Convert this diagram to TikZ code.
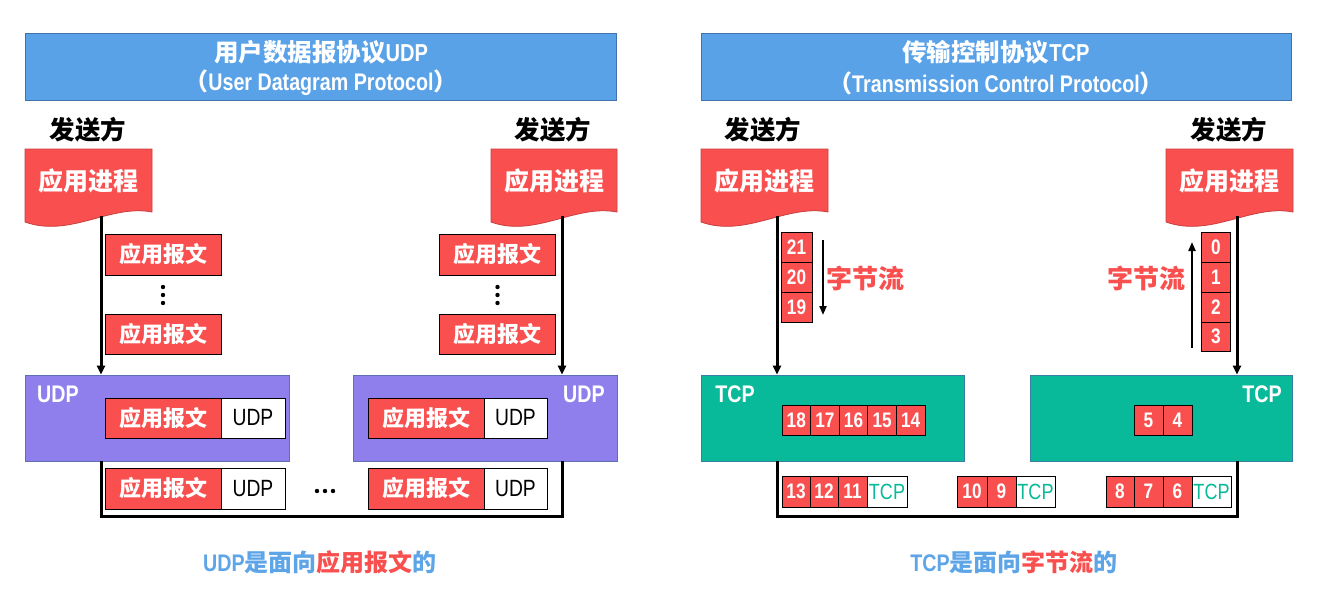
\documentclass[tikz,border=0pt]{standalone}
\usepackage{fontspec}
\usetikzlibrary{arrows.meta}
\setmainfont{Liberation Sans}
\newfontfamily\latf{Liberation Sans}[FakeStretch=0.82]
\newfontfamily\cjkf{Noto Sans CJK SC}
\newcommand\zhb[1]{{\cjkf\bfseries #1}}
\newcommand\enb[1]{{\latf\bfseries #1}}
\newcommand\enr[1]{{\latf #1}}
\definecolor{hblue}{HTML}{5AA2E8}
\definecolor{hborder}{HTML}{3F72AF}
\definecolor{cred}{HTML}{F94F4F}
\definecolor{dred}{HTML}{C9403F}
\definecolor{cpurple}{HTML}{8F7FEC}
\definecolor{pborder}{HTML}{5F6FB0}
\definecolor{cteal}{HTML}{08BA9A}
\definecolor{tborder}{HTML}{3A7FA0}
\definecolor{capblue}{HTML}{5EA5E8}
\tikzset{
  hdr/.style={draw=hborder, line width=1pt, fill=hblue, minimum width=591pt, minimum height=67pt, inner sep=0pt},
  hdrtext/.style={text=white, inner sep=0pt, font=\fontsize{24.5}{27}\selectfont},
  hdrsub/.style={text=white, inner sep=0pt, font=\fontsize{24}{27}\selectfont},
  sender/.style={inner sep=0pt, font=\fontsize{25.5}{28}\selectfont},
  doctext/.style={text=white, inner sep=0pt, font=\fontsize{25}{28}\selectfont},
  docshape/.style={fill=cred, draw=dred, line width=0.8pt},
  msg/.style={draw=black, line width=1pt, fill=cred, text=white, inner sep=0pt, minimum width=116pt, font=\fontsize{22}{25}\selectfont},
  hdrcell/.style={draw=black, line width=1pt, fill=white, text=black, inner sep=0pt, minimum width=64pt, font=\fontsize{23.5}{26}\selectfont},
  udpbox/.style={draw=pborder, line width=0.8pt, fill=cpurple, minimum width=264pt, minimum height=86pt, inner sep=0pt},
  tcpbox/.style={draw=tborder, line width=0.8pt, fill=cteal, minimum width=263pt, minimum height=86pt, inner sep=0pt},
  boxlabel/.style={text=white, inner sep=0pt, font=\fontsize{24}{26}\selectfont},
  byte/.style={draw=black, line width=1pt, fill=cred, text=white, inner sep=0pt, minimum width=29pt, minimum height=30pt, font=\fontsize{21}{23}\selectfont},
  tcpcell/.style={draw=black, line width=1pt, fill=white, text=cteal, inner sep=0pt, minimum width=40pt, minimum height=31pt, font=\fontsize{22}{24}\selectfont},
  flow/.style={line width=3pt, -{Triangle[length=9pt,width=8pt]}},
  thinflow/.style={line width=2pt, -{Triangle[length=9pt,width=7pt]}},
  bar/.style={line width=3pt},
  stream/.style={text=cred, inner sep=0pt, font=\fontsize{26}{28}\selectfont},
  caption/.style={inner sep=0pt, font=\fontsize{24}{27}\selectfont},
}
\begin{document}
\begin{tikzpicture}[x=1pt,y=-1pt]
\useasboundingbox[fill=white] (0,0) rectangle (1319,589);

% ================= UDP side =================
\node[hdr] (hudp) at (321,66.5) {};
\node[hdrtext] (hudp1) at (321,52) {\zhb{用户数据报协议}\enb{UDP}};
\node[hdrsub] (hudp2) at (321,83) {\zhb{（}\enb{User Datagram Protocol}\zhb{）}};

\node[sender] (sL1) at (88,130) {\zhb{发送方}};
\node[sender] (sR1) at (553,130) {\zhb{发送方}};

\path[docshape] (25,149) -- (152,149) -- (152,212) .. controls (110,204) and (70,238) .. (25,222) -- cycle;
\node[doctext] (pL1) at (88,181) {\zhb{应用进程}};
\path[docshape] (491,149) -- (617,149) -- (617,212) .. controls (575,204) and (535,238) .. (491,222) -- cycle;
\node[doctext] (pR1) at (554,181) {\zhb{应用进程}};

\node[msg, minimum height=41pt] (mL1) at (163,254.5) {\zhb{应用报文}};
\node[msg, minimum height=40pt] (mL2) at (163,334) {\zhb{应用报文}};
\node[msg, minimum height=41pt] (mR1) at (497.5,254.5) {\zhb{应用报文}};
\node[msg, minimum height=40pt] (mR2) at (497.5,334) {\zhb{应用报文}};
\foreach \yy in {287,295,303} {
  \fill (163,\yy) circle (2.2pt);
  \fill (497.5,\yy) circle (2.2pt);
}

\node[udpbox] (udpL) at (157,418) {};
\node[udpbox] (udpR) at (485.5,418) {};
\node[boxlabel] (udpLl) at (58,394) {\enb{UDP}};
\node[boxlabel] (udpRl) at (584,394) {\enb{UDP}};

\node[msg, minimum height=40pt] (uL) at (163,418) {\zhb{应用报文}};
\node[hdrcell, minimum height=40pt] (uLh) at (253,418) {\enr{UDP}};
\node[msg, minimum height=40pt] (uR) at (426,418) {\zhb{应用报文}};
\node[hdrcell, minimum width=63pt, minimum height=40pt] (uRh) at (515.5,418) {\enr{UDP}};

\node[msg, minimum height=41pt] (bL) at (163,488.5) {\zhb{应用报文}};
\node[hdrcell, minimum height=41pt] (bLh) at (253,488.5) {\enr{UDP}};
\node[msg, minimum height=41pt] (bR) at (426,488.5) {\zhb{应用报文}};
\node[hdrcell, minimum width=63pt, minimum height=41pt] (bRh) at (515.5,488.5) {\enr{UDP}};
\foreach \xx in {317,325,333} { \fill (\xx,491) circle (2.2pt); }

\coordinate (aL1) at (101,216);
\coordinate (aR1) at (562,216);
\draw[flow] (aL1) -- (aL1 |- udpL.north);
\draw[flow] (aR1) -- (aR1 |- udpR.north);
\draw[bar] (aL1 |- udpL.south) -- ++(0,55) -| (aR1 |- udpR.south);

\node[caption] (capU) at (320,562) {\textcolor{capblue}{\enb{UDP}\zhb{是面向}}\textcolor{cred}{\zhb{应用报文}}\textcolor{capblue}{\zhb{的}}};

% ================= TCP side =================
\node[hdr, minimum width=590pt] (htcp) at (996,66.5) {};
\node[hdrtext] (htcp1) at (996,52) {\zhb{传输控制协议}\enb{TCP}};
\node[hdrsub] (htcp2) at (996,83) {\zhb{（}\enb{Transmission Control Protocol}\zhb{）}};

\node[sender] (sL2) at (763,130) {\zhb{发送方}};
\node[sender] (sR2) at (1229,130) {\zhb{发送方}};

\path[docshape] (701,149) -- (828,149) -- (828,212) .. controls (786,204) and (746,238) .. (701,222) -- cycle;
\node[doctext] (pL2) at (764,181) {\zhb{应用进程}};
\path[docshape] (1166,149) -- (1293,149) -- (1293,212) .. controls (1251,204) and (1211,238) .. (1166,222) -- cycle;
\node[doctext] (pR2) at (1229,181) {\zhb{应用进程}};

% byte stream, left
\node[byte, minimum width=31pt] (b21) at (796.5,247) {\enb{21}};
\node[byte, minimum width=31pt] (b20) at (796.5,277) {\enb{20}};
\node[byte, minimum width=31pt] (b19) at (796.5,307) {\enb{19}};
\coordinate (dsT) at (823,240);
\coordinate (dsB) at (823,315);
\draw[thinflow] (dsT) -- (dsB);
\node[stream] (strL) at (865,278) {\zhb{字节流}};

% byte stream, right
\node[byte] (b0) at (1216,247) {\enb{0}};
\node[byte] (b1) at (1216,277) {\enb{1}};
\node[byte] (b2) at (1216,307) {\enb{2}};
\node[byte, minimum height=29pt] (b3) at (1216,336.5) {\enb{3}};
\coordinate (usB) at (1192,348);
\coordinate (usT) at (1192,242);
\draw[thinflow] (usB) -- (usT);
\node[stream] (strR) at (1146,278) {\zhb{字节流}};

\node[tcpbox] (tcpL) at (833,418) {};
\node[tcpbox, minimum width=262pt] (tcpR) at (1161,418) {};
\node[boxlabel] (tcpLl) at (735,394) {\enb{TCP}};
\node[boxlabel] (tcpRl) at (1262,394) {\enb{TCP}};

\node[byte, minimum width=28.6pt] (b18) at (796.3,420) {\enb{18}};
\node[byte, minimum width=28.6pt] (b17) at (824.9,420) {\enb{17}};
\node[byte, minimum width=28.6pt] (b16) at (853.5,420) {\enb{16}};
\node[byte, minimum width=28.6pt] (b15) at (882.1,420) {\enb{15}};
\node[byte, minimum width=28.6pt] (b14) at (910.7,420) {\enb{14}};
\node[byte] (b5) at (1148.5,420) {\enb{5}};
\node[byte] (b4) at (1177.5,420) {\enb{4}};

% segments
\node[byte, minimum width=28pt, minimum height=31pt] (b13) at (796,491.5) {\enb{13}};
\node[byte, minimum width=28pt, minimum height=31pt] (b12) at (824,491.5) {\enb{12}};
\node[byte, minimum width=29pt, minimum height=31pt] (b11) at (852.5,491.5) {\enb{11}};
\node[tcpcell] (t1) at (887,491.5) {\enr{TCP}};
\node[byte, minimum width=30pt, minimum height=31pt] (b10) at (972,491.5) {\enb{10}};
\node[byte, minimum width=29pt, minimum height=31pt] (b9) at (1001.5,491.5) {\enb{9}};
\node[tcpcell, minimum width=39pt] (t2) at (1035.5,491.5) {\enr{TCP}};
\node[byte, minimum width=28pt, minimum height=31pt] (b8) at (1120,491.5) {\enb{8}};
\node[byte, minimum width=29pt, minimum height=31pt] (b7) at (1148.5,491.5) {\enb{7}};
\node[byte, minimum width=29pt, minimum height=31pt] (b6) at (1177.5,491.5) {\enb{6}};
\node[tcpcell, minimum width=39pt] (t3) at (1211.5,491.5) {\enr{TCP}};

\coordinate (aL2) at (777,216);
\coordinate (aR2) at (1237,216);
\draw[flow] (aL2) -- (aL2 |- tcpL.north);
\draw[flow] (aR2) -- (aR2 |- tcpR.north);
\draw[bar] (aL2 |- tcpL.south) -- ++(0,55) -| (aR2 |- tcpR.south);

\node[caption] (capT) at (1014,562) {\textcolor{capblue}{\enb{TCP}\zhb{是面向}}\textcolor{cred}{\zhb{字节流}}\textcolor{capblue}{\zhb{的}}};
\end{tikzpicture}
\end{document}
